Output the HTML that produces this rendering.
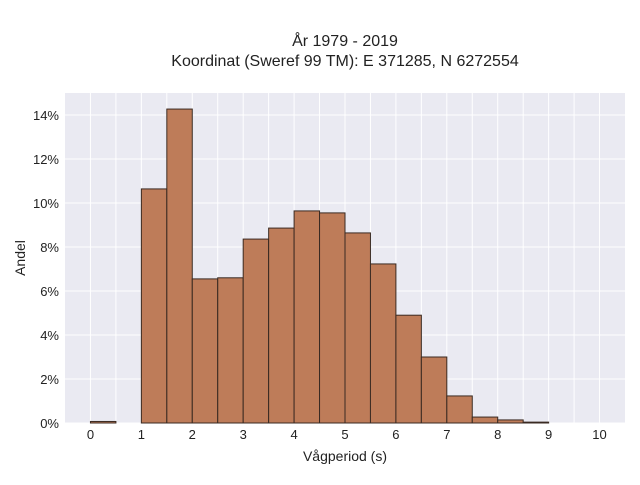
<!DOCTYPE html>
<html><head><meta charset="utf-8"><style>
body{margin:0;background:#fff;}
svg text{font-family:"Liberation Sans",sans-serif;fill:#222;}
</style></head><body>
<svg id="chart" width="640" height="480" xmlns="http://www.w3.org/2000/svg">
<text x="345" y="46" text-anchor="middle" font-size="16">År 1979 - 2019</text>
<text x="345" y="66" text-anchor="middle" font-size="16">Koordinat (Sweref 99 TM): E 371285, N 6272554</text>
<rect x="65" y="93" width="560" height="330" fill="#eaeaf2"/>
<g id="grid"></g><g id="bars"></g><g id="xticks"></g><g id="yticks"></g>
<text x="345" y="461" text-anchor="middle" font-size="14">Vågperiod (s)</text>
<text transform="translate(25,258) rotate(-90)" text-anchor="middle" font-size="14">Andel</text>
</svg>
<script>
const binStarts=[0,1,1.5,2,2.5,3,3.5,4,4.5,5,5.5,6,6.5,7,7.5,8,8.5];
const binValues=[0.07,10.64,14.27,6.55,6.6,8.36,8.86,9.64,9.55,8.64,7.23,4.9,3.0,1.23,0.27,0.14,0.04];
const binWidth=0.5;
const xTickLabels=["0","1","2","3","4","5","6","7","8","9","10"];
const yTickLabels=["0%","2%","4%","6%","8%","10%","12%","14%"];
const X0=65,X1=625,Y0=423,Y1=93,xMin=-0.5,xMax=10.5,yMin=0,yMax=15;
const sx=v=>X0+(v-xMin)/(xMax-xMin)*(X1-X0);
const sy=v=>Y0-(v-yMin)/(yMax-yMin)*(Y0-Y1);
const NS="http://www.w3.org/2000/svg";
function mk(t,a,p){const e=document.createElementNS(NS,t);for(const k in a)e.setAttribute(k,a[k]);p.appendChild(e);return e;}
const grid=document.getElementById('grid');
for(let v=0;v<=10;v+=0.5){const l=mk('line',{x1:sx(v),x2:sx(v),y1:Y1,y2:Y0,stroke:'#fff','stroke-width':1},grid);

}
yTickLabels.forEach((t,i)=>{const v=i*2;const l=mk('line',{x1:X0,x2:X1,y1:sy(v),y2:sy(v),stroke:'#fff','stroke-width':1},grid);


const tx=mk('text',{x:59,y:sy(v)+5,'text-anchor':'end','font-size':13},document.getElementById('yticks'));tx.textContent=t;

});
xTickLabels.forEach((t,i)=>{const tx=mk('text',{x:sx(i),y:439,'text-anchor':'middle','font-size':13},document.getElementById('xticks'));tx.textContent=t;

});
const bars=document.getElementById('bars');
binStarts.forEach((s,i)=>{const v=binValues[i];const r=mk('rect',{x:sx(s),y:sy(v),width:sx(s+binWidth)-sx(s),height:sy(0)-sy(v),fill:'#bc7650','fill-opacity':0.95,stroke:'#3a2a22','stroke-width':1},bars);

});
</script>
</body></html>
